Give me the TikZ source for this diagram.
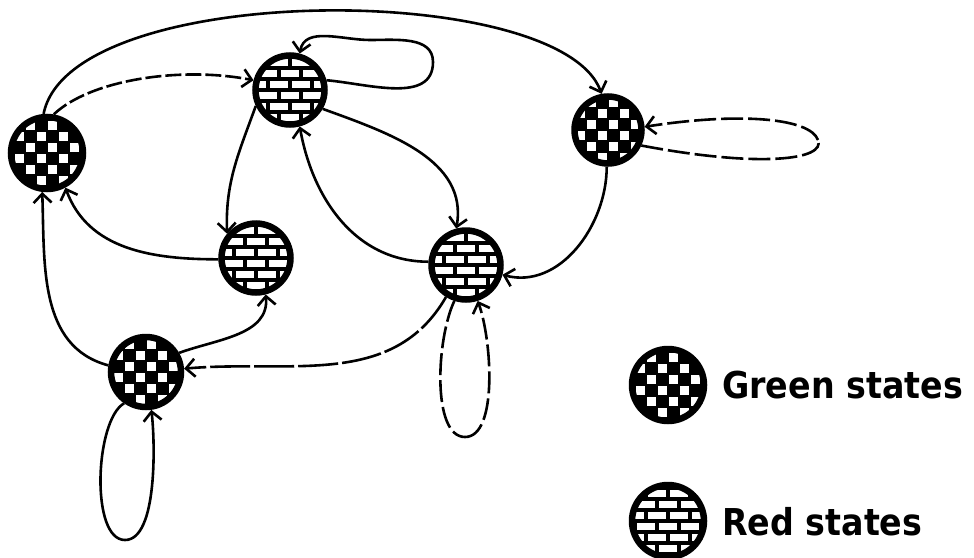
\documentclass[tikz,border=0pt]{standalone}
\usepackage{fontspec}
\newfontfamily\legfont{DejaVu Sans}[FakeStretch=0.9]
\usetikzlibrary{arrows.meta}
\newcommand\checkerfill{%
 \begin{scope}[shift={(path picture bounding box.center)}]
 \foreach \i in {-4,...,3}{\foreach \j in {-4,...,3}{%
   \pgfmathtruncatemacro\chk{mod(\i+\j+20,2)}%
   \ifnum\chk=0 \fill[white] ({\i*11+0.7},{\j*11+0.7}) rectangle ++(9.6,9.6);\fi}}
 \end{scope}}
\newcommand\brickfill{%
 \begin{scope}[shift={(path picture bounding box.center)}]
 \foreach \j in {-4,...,3}{%
   \pgfmathsetmacro\off{mod(\j+20,2)*11}%
   \foreach \i in {-3,...,2}{\fill[white] ({\i*22+\off+2},{\j*11+2}) rectangle ++(18,7.2);}}
 \end{scope}}
\begin{document}
\begin{tikzpicture}[x=1pt,y=1pt,
  greenst/.style={circle, minimum size=69pt, inner sep=0pt, draw=black, line width=6.5pt, fill=black, path picture={\checkerfill}},
  redst/.style={circle, minimum size=69pt, inner sep=0pt, draw=black, line width=6.5pt, fill=black, path picture={\brickfill}},
  edge/.style={line width=2.6pt, -{Straight Barb[length=9pt,width=18pt]}},
  loopline/.style={line width=2.6pt},
  brokenA/.style={dash pattern=on 16pt off 4pt},
  brokenB/.style={dash pattern=on 22pt off 5pt},
  legtext/.style={font=\legfont\bfseries\fontsize{37}{40}\selectfont, inner sep=0pt, anchor=base west}]
\fill[white] (0,0) rectangle (974,-557);
\useasboundingbox (0,0) rectangle (974,-557);

% states
\node[greenst, minimum size=72pt] (A) at (47,-153) {};
\node[redst] (B) at (290,-90) {};
\node[greenst, minimum size=67pt] (C) at (608,-130) {};
\node[redst] (D) at (256,-258) {};
\node[redst] (E) at (466,-265) {};
\node[greenst, minimum size=70pt] (F) at (146,-372) {};

% legend
\node[greenst, minimum size=72pt] (LG) at (668,-385) {};
\node[redst, minimum size=72pt] (LR) at (668,-521) {};
\node[legtext] (TG) at (722,-398) {Green states};
\node[legtext] (TR) at (722,-535) {Red states};

% edges
\draw[edge] (A.95) .. controls (70,20) and (560,20) .. (C.100);
\draw[edge, brokenA] (A.80) .. controls (90,-80) and (180,-66) .. (B.165);
\draw[loopline] (B.15) to[out=-5,in=-90] (433,-62) to[out=90,in=0] (370,-40);
\draw[edge] (370,-40) to[out=180,in=80] (B.75);
\draw[loopline, brokenB] (C.-25) .. controls (760,-168) and (826,-160) .. (818,-140);
\draw[edge, brokenB] (818,-140) .. controls (810,-118) and (740,-112) .. (C.5);
\draw[edge] (B.205) to[out=250,in=92] (D.140);
\draw[edge] (B.-30) to[out=-20,in=80] (E.105);
\draw[edge] (E.175) to[out=180,in=-80] (B.-75);
\draw[edge] (C.-92) to[out=-90,in=-15] (E.-15);
\draw[edge] (D.182) to[out=180,in=-70] (A.-62);
\draw[edge] (F.170) to[out=165,in=-88] (A.-97);
\draw[edge] (F.30) to[out=20,in=-85] (D.-75);
\draw[edge, dash pattern=on 40pt off 4pt] (E.-122) to[out=-120,in=5] (F.5);
\draw[loopline, brokenB] (E.-108) .. controls (436,-340) and (432,-437) .. (465,-437);
\draw[edge, brokenB] (465,-437) .. controls (498,-437) and (492,-340) .. (E.-72);
\draw[loopline] (F.-125) .. controls (95,-420) and (90,-540) .. (125,-540);
\draw[edge] (125,-540) .. controls (158,-540) and (155,-440) .. (F.-82);
\end{tikzpicture}
\end{document}
